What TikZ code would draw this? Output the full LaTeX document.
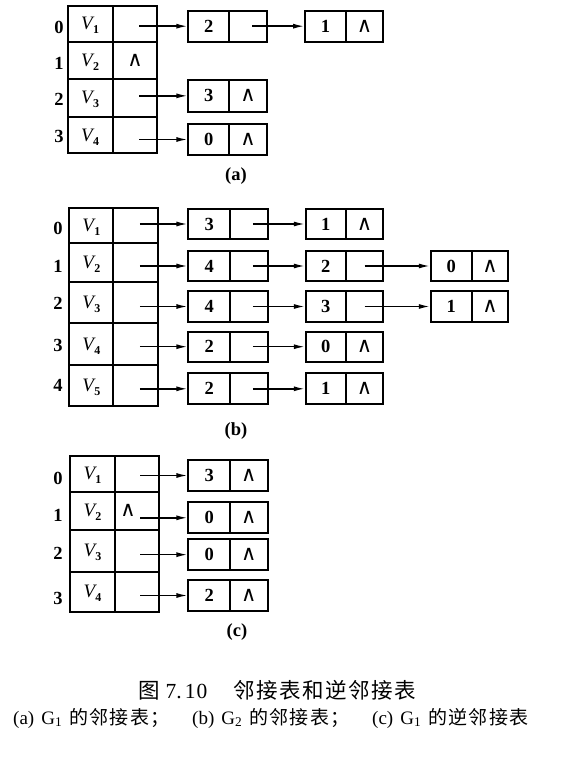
\documentclass[tikz,border=0pt]{standalone}
\usepackage{fontspec}
\setmainfont{Liberation Serif}
\newfontfamily\cjk{Noto Sans CJK SC}
\newfontfamily\cjkls[LetterSpace=7]{Noto Sans CJK SC}
\newfontfamily\symf{DejaVu Sans}
\usetikzlibrary{arrows.meta,calc}
\newcommand\nil{{\symf\mdseries\fontsize{21}{21}\selectfont ∧}}
\newcommand\vx[1]{{\mdseries\itshape\fontsize{19}{19}\selectfont V}\kern0.3pt\smash{\raisebox{-4pt}{\fontsize{12}{12}\selectfont\bfseries #1}}}
\newcommand\bx[6]{%
  \pgfmathsetmacro\bxw{#4-#2}\pgfmathsetmacro\bxh{#5-#3}%
  \pgfmathsetmacro\bxx{(#2+#4)/2}\pgfmathsetmacro\bxy{(#3+#5)/2}%
  \node[cell,minimum width=\bxw pt,minimum height=\bxh pt] (#1) at (\bxx,\bxy) {#6};}
\tikzset{
  cell/.style={draw,line width=1.8pt,inner sep=0pt,font=\bfseries\fontsize{18.5}{18.5}\selectfont},
  idx/.style={inner sep=0pt,font=\bfseries\fontsize{18.5}{18.5}\selectfont},
  arr/.style={line width=1.4pt,-{Latex[length=11pt,width=5pt]}},
  lab/.style={inner sep=0pt,font=\bfseries\fontsize{18.5}{18.5}\selectfont},
  captxt/.style={inner sep=0pt,anchor=west}
}
\begin{document}
\begin{tikzpicture}[x=1pt,y=-1pt]
\useasboundingbox (0,0) rectangle (562,759);
% ---------- (a)
\bx{ta0v}{67.7}{5.7}{112.7}{41.7}{\vx1}
\bx{ta0p}{112.7}{5.7}{157.3}{41.7}{}
\bx{ta1v}{67.7}{41.7}{112.7}{79}{\vx2}
\bx{ta1p}{112.7}{41.7}{157.3}{79}{\nil}
\bx{ta2v}{67.7}{79}{112.7}{116.7}{\vx3}
\bx{ta2p}{112.7}{79}{157.3}{116.7}{}
\bx{ta3v}{67.7}{116.7}{112.7}{153.3}{\vx4}
\bx{ta3p}{112.7}{116.7}{157.3}{153.3}{}
\node[idx] (ia0) at (59,27) {0};
\node[idx] (ia1) at (59,63) {1};
\node[idx] (ia2) at (59,99) {2};
\node[idx] (ia3) at (59,136) {3};
\bx{a0ad}{188.3}{10.7}{229.3}{41.7}{2}
\bx{a0ap}{229.3}{10.7}{266.7}{41.7}{}
\bx{a0bd}{305}{10.7}{346}{41.7}{1}
\bx{a0bp}{346}{10.7}{383.3}{41.7}{\nil}
\bx{a2ad}{188.3}{80}{229.3}{111.7}{3}
\bx{a2ap}{229.3}{80}{266.7}{111.7}{\nil}
\bx{a3ad}{188.3}{124}{229.3}{155}{0}
\bx{a3ap}{229.3}{124}{266.7}{155}{\nil}
\draw[arr] ($(ta0p.center |- a0ad.west)+(4,0)$) -- (a0ad.west);
\draw[arr] ($(a0ap.center)+(4,0)$) -- (a0bd.west);
\draw[arr] ($(ta2p.center |- a2ad.west)+(4,0)$) -- (a2ad.west);
\draw[arr] ($(ta3p.center |- a3ad.west)+(4,0)$) -- (a3ad.west);
\node[lab] (la) at (236,176) {(a)};
% ---------- (b)
\bx{tb0v}{69.3}{208.3}{113.3}{243.3}{\vx1}
\bx{tb0p}{113.3}{208.3}{158.3}{243.3}{}
\bx{tb1v}{69.3}{243.3}{113.3}{282.3}{\vx2}
\bx{tb1p}{113.3}{243.3}{158.3}{282.3}{}
\bx{tb2v}{69.3}{282.3}{113.3}{323.3}{\vx3}
\bx{tb2p}{113.3}{282.3}{158.3}{323.3}{}
\bx{tb3v}{69.3}{323.3}{113.3}{365}{\vx4}
\bx{tb3p}{113.3}{323.3}{158.3}{365}{}
\bx{tb4v}{69.3}{365}{113.3}{405.7}{\vx5}
\bx{tb4p}{113.3}{365}{158.3}{405.7}{}
\node[idx] (ib0) at (58,228) {0};
\node[idx] (ib1) at (58,266.7) {1};
\node[idx] (ib2) at (58,303) {2};
\node[idx] (ib3) at (58,345) {3};
\node[idx] (ib4) at (58,385) {4};
% row 0
\bx{b0ad}{188.3}{209}{230}{239}{3}
\bx{b0ap}{230}{209}{267.7}{239}{}
\bx{b0bd}{305.7}{209}{346}{239}{1}
\bx{b0bp}{346}{209}{383.3}{239}{\nil}
% row 1
\bx{b1ad}{188.3}{251}{230}{281}{4}
\bx{b1ap}{230}{251}{267.7}{281}{}
\bx{b1bd}{305.7}{251}{346}{281}{2}
\bx{b1bp}{346}{251}{383.3}{281}{}
\bx{b1cd}{430.7}{251}{471.7}{281}{0}
\bx{b1cp}{471.7}{251}{508.3}{281}{\nil}
% row 2
\bx{b2ad}{188.3}{291.3}{230}{321.7}{4}
\bx{b2ap}{230}{291.3}{267.7}{321.7}{}
\bx{b2bd}{305.7}{291.3}{346}{321.7}{3}
\bx{b2bp}{346}{291.3}{383.3}{321.7}{}
\bx{b2cd}{430.7}{291.3}{471.7}{321.7}{1}
\bx{b2cp}{471.7}{291.3}{508.3}{321.7}{\nil}
% row 3
\bx{b3ad}{188.3}{331.7}{230}{361.7}{2}
\bx{b3ap}{230}{331.7}{267.7}{361.7}{}
\bx{b3bd}{305.7}{331.7}{346}{361.7}{0}
\bx{b3bp}{346}{331.7}{383.3}{361.7}{\nil}
% row 4
\bx{b4ad}{188.3}{373.3}{230}{404.3}{2}
\bx{b4ap}{230}{373.3}{267.7}{404.3}{}
\bx{b4bd}{305.7}{373.3}{346}{404.3}{1}
\bx{b4bp}{346}{373.3}{383.3}{404.3}{\nil}
\draw[arr] ($(tb0p.center |- b0ad.west)+(4,0)$) -- (b0ad.west);
\draw[arr] ($(tb1p.center |- b1ad.west)+(4,0)$) -- (b1ad.west);
\draw[arr] ($(tb2p.center |- b2ad.west)+(4,0)$) -- (b2ad.west);
\draw[arr] ($(tb3p.center |- b3ad.west)+(4,0)$) -- (b3ad.west);
\draw[arr] ($(tb4p.center |- b4ad.west)+(4,0)$) -- (b4ad.west);
\draw[arr] ($(b0ap.center)+(4,0)$) -- (b0bd.west);
\draw[arr] ($(b1ap.center)+(4,0)$) -- (b1bd.west);
\draw[arr] ($(b2ap.center)+(4,0)$) -- (b2bd.west);
\draw[arr] ($(b3ap.center)+(4,0)$) -- (b3bd.west);
\draw[arr] ($(b4ap.center)+(4,0)$) -- (b4bd.west);
\draw[arr] (b1bp.center) -- (b1cd.west);
\draw[arr] (b2bp.center) -- (b2cd.west);
\node[lab] (lb) at (236,431) {(b)};
% ---------- (c)
\bx{tc0v}{70}{455.7}{115}{491.7}{\vx1}
\bx{tc0p}{115}{455.7}{159}{491.7}{}
\bx{tc1v}{70}{491.7}{115}{530}{\vx2}
\bx{tc1p}{115}{491.7}{159}{530}{\nil\kern18pt\null}
\bx{tc2v}{70}{530}{115}{571.7}{\vx3}
\bx{tc2p}{115}{530}{159}{571.7}{}
\bx{tc3v}{70}{571.7}{115}{611.7}{\vx4}
\bx{tc3p}{115}{571.7}{159}{611.7}{}
\node[idx] (ic0) at (58,478) {0};
\node[idx] (ic1) at (58,515) {1};
\node[idx] (ic2) at (58,553) {2};
\node[idx] (ic3) at (58,598) {3};
\bx{c0ad}{188.3}{460}{230}{491}{3}
\bx{c0ap}{230}{460}{267.7}{491}{\nil}
\bx{c1ad}{188.3}{502.3}{230}{533.3}{0}
\bx{c1ap}{230}{502.3}{267.7}{533.3}{\nil}
\bx{c2ad}{188.3}{539.3}{230}{570}{0}
\bx{c2ap}{230}{539.3}{267.7}{570}{\nil}
\bx{c3ad}{188.3}{580}{230}{611}{2}
\bx{c3ap}{230}{580}{267.7}{611}{\nil}
\draw[arr] ($(tc0p.center |- c0ad.west)+(3,0)$) -- (c0ad.west);
\draw[arr] ($(tc1p.center |- c1ad.west)+(3,0)$) -- (c1ad.west);
\draw[arr] ($(tc2p.center |- c2ad.west)+(3,0)$) -- (c2ad.west);
\draw[arr] ($(tc3p.center |- c3ad.west)+(3,0)$) -- (c3ad.west);
\node[lab] (lc) at (237,632) {(c)};
% ---------- captions
\node[captxt,font=\fontsize{21.5}{21.5}\selectfont] (title) at (138,690) {{\cjk 图}\hspace{6pt}7.\hspace{3pt}1\hspace{1pt}0\hspace{26pt}{\cjkls 邻接表和逆邻接表}};
\node[captxt,font=\fontsize{19}{19}\selectfont] (suba) at (13,718) {(a)\hspace{7pt}G\textsubscript{1}\hspace{7pt}{\cjkls 的邻接表；}};
\node[captxt,font=\fontsize{19}{19}\selectfont] (subb) at (192,718) {(b)\hspace{7pt}G\textsubscript{2}\hspace{7pt}{\cjkls 的邻接表；}};
\node[captxt,font=\fontsize{19}{19}\selectfont] (subc) at (372,718) {(c)\hspace{7pt}G\textsubscript{1}\hspace{7pt}{\cjkls 的逆邻接表}};
\end{tikzpicture}
\end{document}
